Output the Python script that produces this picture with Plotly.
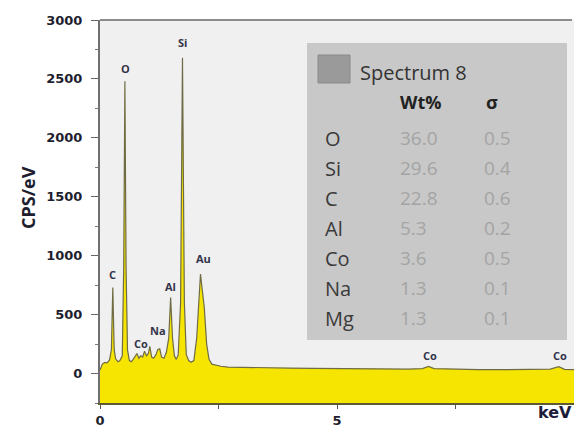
import plotly.graph_objects as go

# ---------------- data ----------------
energy_kev = [0.00, 0.05, 0.10, 0.15, 0.20, 0.24, 0.27, 0.30, 0.33, 0.38, 0.42, 0.47, 0.50, 0.525,
              0.55, 0.58, 0.62, 0.66, 0.70, 0.74, 0.78, 0.82, 0.86, 0.90, 0.94, 0.98, 1.02, 1.05,
              1.09, 1.13, 1.18, 1.22, 1.26, 1.30, 1.35, 1.40, 1.45, 1.49, 1.53, 1.57, 1.61, 1.65,
              1.70, 1.74, 1.78, 1.82, 1.87, 1.92, 1.98, 2.04, 2.08, 2.12, 2.16, 2.20, 2.25, 2.30,
              2.36, 2.45, 2.55, 2.70, 3.0, 3.5, 4.0, 4.5, 5.0, 5.5, 6.0, 6.5, 6.8, 6.93, 7.05, 7.5,
              8.0, 8.5, 9.0, 9.5, 9.68, 9.8, 10.0]
cps_per_ev = [30, 80, 95, 90, 115, 200, 730, 200, 125, 100, 110, 150, 900, 2480,
              900, 200, 110, 100, 120, 140, 170, 130, 150, 140, 190, 150, 170, 230,
              140, 130, 160, 205, 210, 140, 130, 180, 300, 645, 300, 150, 120, 160,
              600, 2680, 600, 160, 110, 95, 110, 300, 600, 845, 700, 560, 250, 120,
              80, 70, 62, 55, 52, 48, 46, 44, 42, 40, 40, 38, 42, 60, 42, 36,
              34, 33, 33, 38, 58, 36, 34]

peak_labels = ["C", "O", "Co", "Na", "Al", "Si", "Au", "Co", "Co"]
peak_label_x = [0.27, 0.53, 0.87, 1.22, 1.48, 1.73, 2.19, 6.96, 9.70]
peak_label_y = [840, 2590, 254, 364, 737, 2810, 974, 152, 152]

spectrum_name = "Spectrum 8"
elements = ["O", "Si", "C", "Al", "Co", "Na", "Mg"]
wt_percent = ["36.0", "29.6", "22.8", "5.3", "3.6", "1.3", "1.3"]
sigma = ["0.5", "0.4", "0.6", "0.2", "0.5", "0.1", "0.1"]

y_ticks = [0, 500, 1000, 1500, 2000, 2500, 3000]
x_tickvals = [0, 2.5, 5, 7.5, 10]
x_ticktext = ["0", "", "5", "", ""]

Y_MIN, Y_MAX = -250, 3000
X_MIN, X_MAX = 0, 10

# ---------------- layout helpers ----------------
W, H = 574, 428
ML, MR, MT, MB = 100, 0, 20, 25
PW, PH = W - ML - MR, H - MT - MB


def px(x):
    return (x - ML) / PW


def py(y):
    return (H - MB - y) / PH


fig = go.Figure()

# baseline for the filled area (bottom of the axis range)
fig.add_trace(go.Scatter(x=[X_MIN, X_MAX], y=[Y_MIN, Y_MIN], mode="lines",
                         line=dict(width=0), hoverinfo="skip", showlegend=False))
fig.add_trace(go.Scatter(x=energy_kev, y=cps_per_ev, mode="lines", fill="tonexty",
                         fillcolor="#f5e500", line=dict(color="#6f6c45", width=1.2),
                         showlegend=False))

annotations = []
for t, xx, yy in zip(peak_labels, peak_label_x, peak_label_y):
    annotations.append(dict(x=xx, y=yy, xref="x", yref="y", text=t, showarrow=False,
                            font=dict(family="Open Sans", size=11, color="#33334a", weight="bold"),
                            xanchor="center", yanchor="middle"))

# table panel
shapes = [
    dict(type="rect", xref="paper", yref="paper", x0=px(307), x1=px(567), y0=py(340), y1=py(43),
         fillcolor="#c8c8c8", line=dict(width=0), layer="above"),
    dict(type="rect", xref="paper", yref="paper", x0=px(318), x1=px(350), y0=py(83), y1=py(55),
         fillcolor="#9a9a9a", line=dict(color="#8a8a8a", width=1), layer="above"),
    dict(type="line", xref="paper", yref="paper", x0=0, x1=px(572), y0=1, y1=1,
         line=dict(color="#8c8c8c", width=2)),
]

annotations.append(dict(x=px(358), y=py(72), xref="paper", yref="paper", text=spectrum_name,
                        showarrow=False, xanchor="left", yanchor="middle",
                        font=dict(family="Open Sans", size=20, color="#333333")))
annotations.append(dict(x=px(398), y=py(102), xref="paper", yref="paper", text="Wt%",
                        showarrow=False, xanchor="left", yanchor="middle",
                        font=dict(family="Open Sans", size=18, color="#222222", weight="bold")))
annotations.append(dict(x=px(484), y=py(102), xref="paper", yref="paper", text="σ",
                        showarrow=False, xanchor="left", yanchor="middle",
                        font=dict(family="Open Sans", size=18, color="#222222", weight="bold")))

row_y = [138 + 30 * i for i in range(len(elements))]
for el, wt, sg, ry in zip(elements, wt_percent, sigma, row_y):
    annotations.append(dict(x=px(323), y=py(ry), xref="paper", yref="paper", text=el,
                            showarrow=False, xanchor="left", yanchor="middle",
                            font=dict(family="Open Sans", size=20, color="#3a3a3a")))
    annotations.append(dict(x=px(398), y=py(ry), xref="paper", yref="paper", text=wt,
                            showarrow=False, xanchor="left", yanchor="middle",
                            font=dict(family="Open Sans", size=19, color="#a4a4a4")))
    annotations.append(dict(x=px(482), y=py(ry), xref="paper", yref="paper", text=sg,
                            showarrow=False, xanchor="left", yanchor="middle",
                            font=dict(family="Open Sans", size=19, color="#a4a4a4")))

# axis titles
annotations.append(dict(x=px(28), y=py(198), xref="paper", yref="paper", text="CPS/eV",
                        showarrow=False, textangle=-90, xanchor="center", yanchor="middle",
                        font=dict(family="Open Sans", size=18, color="#1e1e2e", weight="bold")))
annotations.append(dict(x=px(555), y=py(413), xref="paper", yref="paper", text="keV",
                        showarrow=False, xanchor="center", yanchor="middle",
                        font=dict(family="DejaVu Sans", size=16, color="#1c1c3a", weight="bold")))

fig.update_layout(
    width=W, height=H,
    margin=dict(l=ML, r=MR, t=MT, b=MB, pad=0),
    paper_bgcolor="white", plot_bgcolor="#f0f0f0",
    shapes=shapes, annotations=annotations,
    xaxis=dict(range=[X_MIN, X_MAX], tickvals=x_tickvals, ticktext=x_ticktext,
               ticks="outside", ticklen=4, tickcolor="#555555", showgrid=False, zeroline=False,
               showline=True, linecolor="#5e5a30", linewidth=2,
               tickfont=dict(family="DejaVu Sans", size=13, color="#1e1e2e", weight="bold")),
    yaxis=dict(range=[Y_MIN, Y_MAX], tickvals=y_ticks, ticks="outside", ticklen=7,
               tickcolor="#666666", showgrid=False, zeroline=False,
               showline=True, linecolor="#707070", linewidth=2, ticklabelstandoff=6,
               minor=dict(dtick=250, ticks="outside", ticklen=3, tickcolor="#777777"),
               tickfont=dict(family="DejaVu Sans", size=13, color="#1e1e2e", weight="bold")),
)

fig.write_html("out.html")
